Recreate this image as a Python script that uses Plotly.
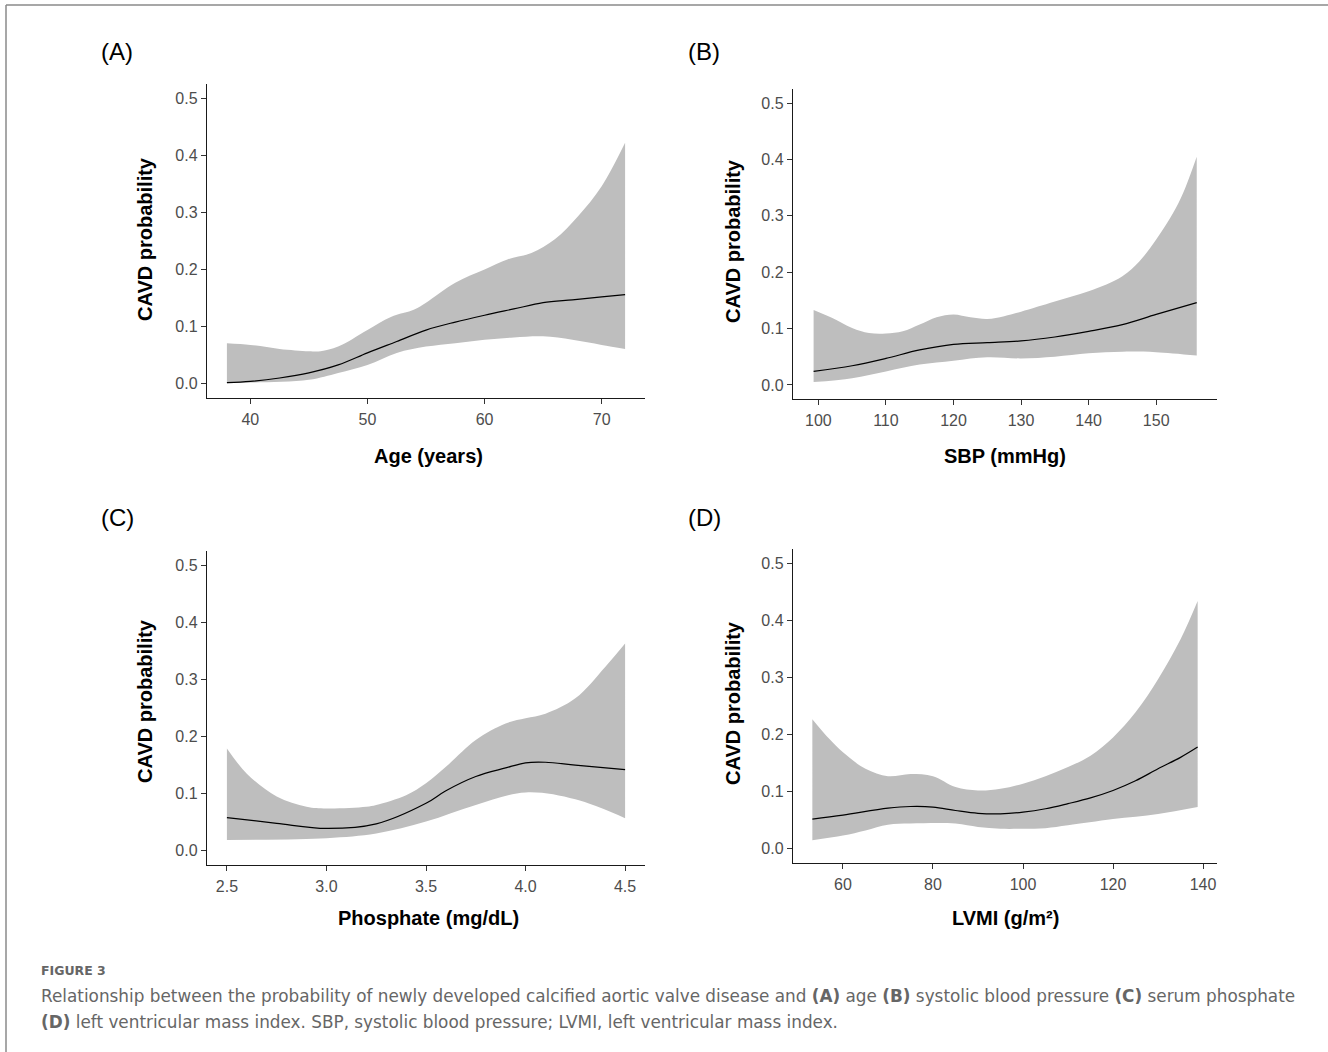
import plotly.graph_objects as go

W, H = 1328, 1052

# ---------------- data ----------------
# (A) Age
age_x = [38, 40, 42.5, 45, 47.5, 50, 52.5, 55, 57.5, 60, 62.5, 65, 67.5, 70, 72]
age_fit = [0.002, 0.004, 0.010, 0.019, 0.033, 0.054, 0.074, 0.094, 0.108, 0.120, 0.131, 0.142, 0.147, 0.152, 0.156]
age_up_x = [38, 40, 42.5, 45, 46, 47.5, 50, 52, 54, 55, 57.5, 60, 62, 64, 66, 68, 70, 72]
age_up = [0.071, 0.068, 0.061, 0.057, 0.057, 0.065, 0.094, 0.117, 0.130, 0.142, 0.177, 0.200, 0.218, 0.229, 0.253, 0.294, 0.346, 0.422]
age_lo_x = [38, 40, 45, 47.5, 50, 52.5, 55, 57.5, 60, 62.5, 65, 67.5, 70, 72]
age_lo = [0.001, 0.002, 0.007, 0.019, 0.033, 0.054, 0.065, 0.071, 0.077, 0.081, 0.083, 0.077, 0.068, 0.061]

# (B) SBP
sbp_x = [99.3, 105, 110, 115, 120, 125, 130, 135, 140, 145, 150, 156]
sbp_fit = [0.024, 0.034, 0.047, 0.062, 0.072, 0.075, 0.078, 0.085, 0.095, 0.107, 0.125, 0.146]
sbp_up_x = [99.3, 102, 105, 107.5, 110, 112.5, 115, 117.5, 120, 122.5, 125, 127.5, 130, 135, 140, 145, 147.5, 150, 152.5, 154, 156]
sbp_up = [0.133, 0.119, 0.101, 0.092, 0.091, 0.095, 0.107, 0.120, 0.125, 0.120, 0.117, 0.122, 0.130, 0.148, 0.166, 0.193, 0.219, 0.258, 0.305, 0.341, 0.405]
sbp_lo_x = [99.3, 105, 110, 115, 120, 125, 130, 135, 140, 145, 150, 156]
sbp_lo = [0.005, 0.012, 0.024, 0.036, 0.043, 0.049, 0.047, 0.050, 0.056, 0.059, 0.058, 0.052]

# (C) Phosphate
pho_x = [2.5, 2.75, 3.0, 3.25, 3.5, 3.6, 3.75, 3.9, 4.0, 4.1, 4.25, 4.5]
pho_fit = [0.058, 0.048, 0.039, 0.047, 0.083, 0.105, 0.130, 0.145, 0.154, 0.155, 0.150, 0.142]
pho_up_x = [2.5, 2.6, 2.75, 2.9, 3.0, 3.2, 3.25, 3.4, 3.5, 3.6, 3.75, 3.9, 4.0, 4.1, 4.25, 4.4, 4.5]
pho_up = [0.179, 0.135, 0.095, 0.077, 0.074, 0.077, 0.080, 0.097, 0.118, 0.147, 0.194, 0.223, 0.232, 0.240, 0.267, 0.322, 0.363]
pho_lo_x = [2.5, 3.0, 3.25, 3.5, 3.75, 4.0, 4.25, 4.5]
pho_lo = [0.019, 0.022, 0.030, 0.051, 0.080, 0.102, 0.090, 0.057]

# (D) LVMI
lv_x = [53.2, 60, 70, 75, 80, 85, 90, 95, 100, 105, 110, 115, 120, 125, 130, 135, 138.8]
lv_fit = [0.052, 0.059, 0.071, 0.074, 0.073, 0.067, 0.062, 0.061, 0.064, 0.070, 0.079, 0.089, 0.102, 0.119, 0.140, 0.160, 0.178]
lv_up_x = [53.2, 57, 60, 65, 70, 75, 80, 85, 90, 95, 100, 105, 110, 115, 120, 125, 130, 135, 138.8]
lv_up = [0.227, 0.192, 0.169, 0.140, 0.127, 0.131, 0.127, 0.108, 0.102, 0.105, 0.114, 0.127, 0.143, 0.163, 0.195, 0.239, 0.297, 0.367, 0.434]
lv_lo_x = [53.2, 60, 65, 70, 75, 85, 90, 95, 100, 105, 110, 120, 130, 138.8]
lv_lo = [0.015, 0.023, 0.032, 0.042, 0.044, 0.044, 0.038, 0.035, 0.035, 0.036, 0.041, 0.052, 0.061, 0.073]

y_ticks = [0.0, 0.1, 0.2, 0.3, 0.4, 0.5]
panel_labels = ["(A)", "(B)", "(C)", "(D)"]
x_titles = ["Age (years)", "SBP (mmHg)", "Phosphate (mg/dL)", "LVMI (g/m²)"]
y_title = "CAVD probability"
x_tickvals = [[40, 50, 60, 70], [100, 110, 120, 130, 140, 150], [2.5, 3.0, 3.5, 4.0, 4.5], [60, 80, 100, 120, 140]]
x_ticktext = [["40", "50", "60", "70"], ["100", "110", "120", "130", "140", "150"],
              ["2.5", "3.0", "3.5", "4.0", "4.5"], ["60", "80", "100", "120", "140"]]
caption_head = "FIGURE 3"
caption_l1 = ("Relationship between the probability of newly developed calcified aortic valve disease and "
              "<b>(A)</b> age <b>(B)</b> systolic blood pressure <b>(C)</b> serum phosphate")
caption_l2 = "<b>(D)</b> left ventricular mass index. SBP, systolic blood pressure; LVMI, left ventricular mass index."

# ---------------- layout geometry (pixels) ----------------
# (left, right, top, bottom) of each plot area
boxes = [(207, 645, 84, 398), (793, 1217, 89, 399), (207, 645, 551, 865), (793, 1217, 549, 863)]
x_ranges = [[36.3, 73.7], [96.25, 159.0], [2.4, 4.6], [48.9, 143.1]]
y_range = [-0.025, 0.525]
label_pos = [(99, 52), (686, 52), (99, 517), (686, 517)]
ytitle_pos = [(145, 239), (733, 241), (145, 701), (733, 703)]
xtitle_pos = [(428, 456), (1005, 456), (428, 918), (1005, 918)]

series = [
    (age_x, age_fit, age_up_x, age_up, age_lo_x, age_lo),
    (sbp_x, sbp_fit, sbp_up_x, sbp_up, sbp_lo_x, sbp_lo),
    (pho_x, pho_fit, pho_up_x, pho_up, pho_lo_x, pho_lo),
    (lv_x, lv_fit, lv_up_x, lv_up, lv_lo_x, lv_lo),
]

def px(x):
    return x / W

def py(y):
    return 1 - y / H

fig = go.Figure()
FILL = "#bebebe"
TICKFONT = dict(family="Liberation Sans, Arial, sans-serif", size=16, color="#4d4d4d")
TITLEFONT = dict(family="Liberation Sans, Arial, sans-serif", size=20, color="#000000")

annotations = []
for i, (fx, fy, ux, uy, lx, ly) in enumerate(series):
    xa = "x" if i == 0 else f"x{i+1}"
    ya = "y" if i == 0 else f"y{i+1}"
    fig.add_trace(go.Scatter(x=lx, y=ly, mode="lines", line=dict(width=0, shape="spline", color=FILL),
                             xaxis=xa, yaxis=ya, showlegend=False, hoverinfo="skip"))
    fig.add_trace(go.Scatter(x=ux, y=uy, mode="lines", line=dict(width=0, shape="spline", color=FILL),
                             fill="tonexty", fillcolor=FILL,
                             xaxis=xa, yaxis=ya, showlegend=False, hoverinfo="skip"))
    fig.add_trace(go.Scatter(x=fx, y=fy, mode="lines", line=dict(width=1.2, shape="spline", color="#000000"),
                             xaxis=xa, yaxis=ya, showlegend=False))
    l, r, t, b = boxes[i]
    xkey = "xaxis" if i == 0 else f"xaxis{i+1}"
    ykey = "yaxis" if i == 0 else f"yaxis{i+1}"
    fig.update_layout(**{
        xkey: dict(domain=[px(l), px(r)], range=x_ranges[i], anchor=ya,
                   showline=True, linecolor="#1a1a1a", linewidth=1.4, showgrid=False, zeroline=False,
                   ticks="outside", ticklen=5, tickcolor="#333333", tickwidth=1,
                   ticklabelstandoff=2,
                   tickvals=x_tickvals[i], ticktext=x_ticktext[i], tickfont=TICKFONT),
        ykey: dict(domain=[py(b), py(t)], range=y_range, anchor=xa,
                   showline=True, linecolor="#1a1a1a", linewidth=1.4, showgrid=False, zeroline=False,
                   ticks="outside", ticklen=5, tickcolor="#333333", tickwidth=1,
                   tickvals=y_ticks, ticktext=[f"{v:.1f}" for v in y_ticks], tickfont=TICKFONT),
    })
    annotations.append(dict(text=panel_labels[i], x=px(label_pos[i][0]), y=py(label_pos[i][1]),
                            xref="paper", yref="paper", xanchor="left", yanchor="middle", showarrow=False,
                            font=dict(family="Liberation Sans, Arial, sans-serif", size=24, color="#000000")))
    annotations.append(dict(text=f"<b>{y_title}</b>", x=px(ytitle_pos[i][0]), y=py(ytitle_pos[i][1]),
                            xref="paper", yref="paper", xanchor="center", yanchor="middle", textangle=-90,
                            showarrow=False, font=TITLEFONT))
    annotations.append(dict(text=f"<b>{x_titles[i]}</b>", x=px(xtitle_pos[i][0]), y=py(xtitle_pos[i][1]),
                            xref="paper", yref="paper", xanchor="center", yanchor="middle",
                            showarrow=False, font=TITLEFONT))

CAPFONT = dict(family="DejaVu Sans, sans-serif", size=16.85, color="#666666")
annotations.append(dict(text=f"<b>{caption_head}</b>", x=px(39), y=py(970), xref="paper", yref="paper",
                        xanchor="left", yanchor="middle", showarrow=False,
                        font=dict(family="DejaVu Sans, sans-serif", size=12.5, color="#666666")))
annotations.append(dict(text=caption_l1, x=px(39), y=py(996), xref="paper", yref="paper",
                        xanchor="left", yanchor="middle", showarrow=False, font=CAPFONT))
annotations.append(dict(text=caption_l2, x=px(39), y=py(1022), xref="paper", yref="paper",
                        xanchor="left", yanchor="middle", showarrow=False, font=CAPFONT))

shapes = [
    dict(type="line", xref="paper", yref="paper", x0=px(6), x1=1, y0=py(5), y1=py(5),
         line=dict(color="#8a8a8a", width=1.5)),
    dict(type="line", xref="paper", yref="paper", x0=px(6), x1=px(6), y0=0, y1=py(5),
         line=dict(color="#8a8a8a", width=1.5)),
]

fig.update_layout(width=W, height=H, margin=dict(l=0, r=0, t=0, b=0),
                  paper_bgcolor="#ffffff", plot_bgcolor="#ffffff",
                  annotations=annotations, shapes=shapes, showlegend=False)

fig.write_html("out.html", config={"displayModeBar": False},
               post_script="document.body.style.margin='0';document.body.style.padding='0';")
